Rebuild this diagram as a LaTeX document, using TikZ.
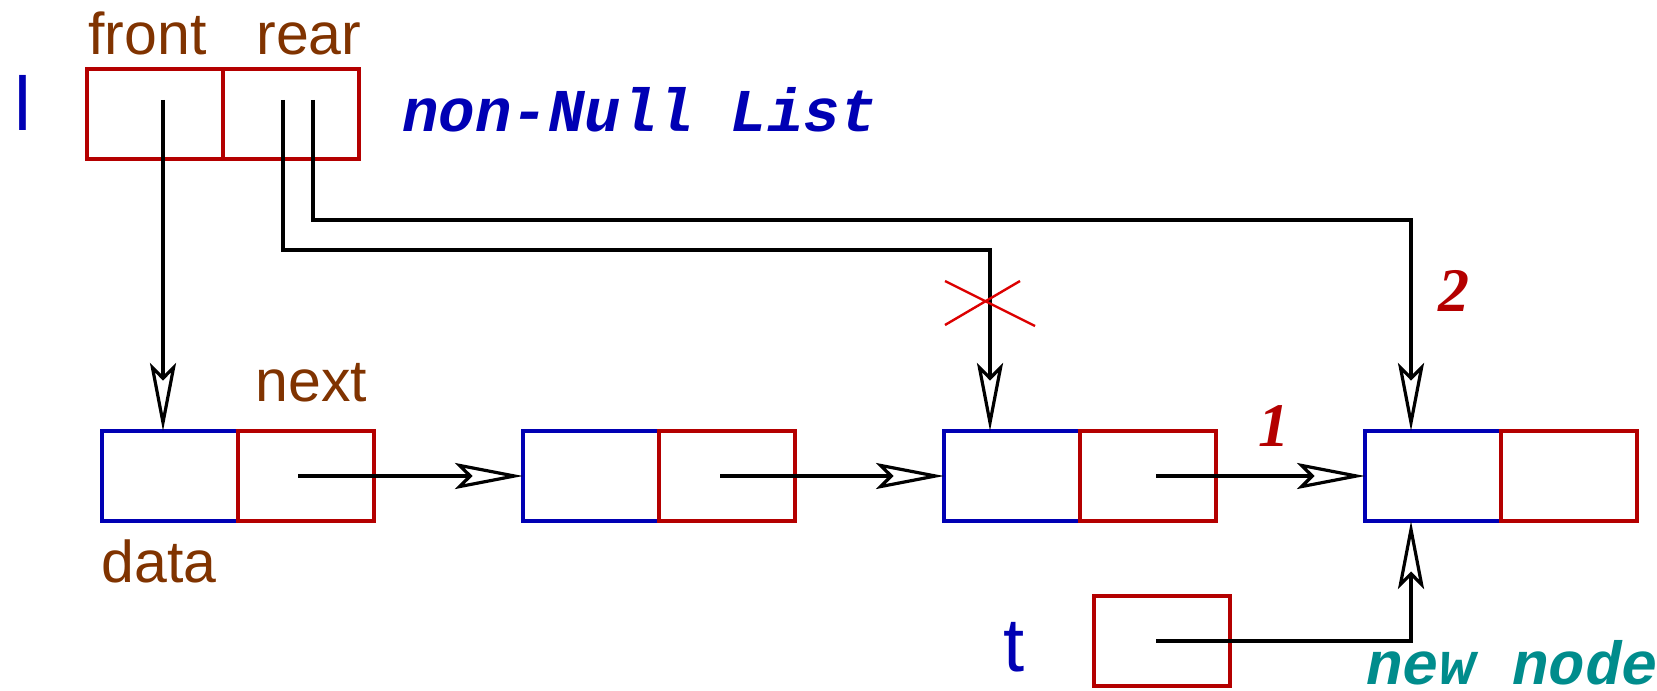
\documentclass[tikz,border=0pt]{standalone}
\usepackage{fontspec}
\setmainfont{Liberation Sans}
\newfontfamily\monofnt{Liberation Mono}
\newfontfamily\seriffnt{Liberation Serif}
\usetikzlibrary{arrows.meta}
\definecolor{cblue}{RGB}{0,0,180}
\definecolor{cred}{RGB}{180,0,0}
\definecolor{cbrown}{RGB}{128,51,0}
\definecolor{cteal}{RGB}{0,140,140}
\definecolor{xred}{RGB}{220,0,0}
\begin{document}
\begin{tikzpicture}[x=0.5pt,y=-0.5pt,
  cellbase/.style={draw, line width=1.6pt, minimum width=68pt, minimum height=45pt, inner sep=0pt, outer sep=0pt, anchor=north west},
  datacell/.style={cellbase, draw=cblue},
  linkcell/.style={cellbase, draw=cred},
  ptr/.style={line width=1.6pt, -{Stealth[open, length=34pt, width=13pt, inset=6.5pt]}},
  lbl/.style={inner sep=0pt, anchor=base west, text=cbrown, font=\fontsize{29.5pt}{32pt}\selectfont},
  varlbl/.style={inner sep=0pt, anchor=base west, text=cblue, font=\fontsize{38pt}{40pt}\selectfont},
  codelbl/.style={inner sep=0pt, anchor=base west, font=\monofnt\bfseries\itshape\fontsize{30.4pt}{32pt}\selectfont},
  steplbl/.style={inner sep=0pt, anchor=base west, text=cred, font=\seriffnt\bfseries\itshape\fontsize{31pt}{34pt}\selectfont}
]
\useasboundingbox (0,0) rectangle (1657,690);

% header
\node[linkcell] (hf) at (87,69) {};
\node[linkcell] (hr) at (223,69) {};

% list nodes
\foreach \i/\L in {1/102,2/523,3/944,4/1365}{
  \node[datacell] (n\i a) at (\L,431) {};
  \node[linkcell] (n\i b) at (\L+136,431) {};
}
% t box
\node[linkcell] (tb) at (1094,596) {};

% labels
\node[varlbl] (lL) at (14,130) {l};
\node[lbl] (lfront) at (88,55) {front};
\node[lbl] (lrear) at (256,55) {rear};
\node[codelbl, text=cblue] (lnn) at (402,131) {non-Null List};
\node[lbl] (lnext) at (255,401) {next};
\node[lbl] (ldata) at (101,582) {data};
\node[varlbl] (lt) at (1003,671) {t};
\node[codelbl, text=cteal] (lnew) at (1366,684) {new node};
\node[steplbl] (lone) at (1258,446) {1};
\node[steplbl] (ltwo) at (1438,311) {2};

% pointers from header
\coordinate (fp) at (163,100);
\draw[ptr] (fp) -- (fp |- n1a.north);
\coordinate (rp1) at (283,100);
\coordinate (j1) at (990,250);
\draw[ptr] (rp1) |- (j1) -- (j1 |- n3a.north);
\coordinate (rp2) at (313,100);
\coordinate (j2) at (1411,220);
\draw[ptr] (rp2) |- (j2) -- (j2 |- n4a.north);

% next links
\coordinate (l1) at (298,476);
\draw[ptr] (l1) -- (n2a.west);
\coordinate (l2) at (720,476);
\draw[ptr] (l2) -- (n3a.west);
\coordinate (l3) at (1156,476);
\draw[ptr] (l3) -- (n4a.west);

% t pointer
\coordinate (tp) at (1156,641);
\coordinate (j3) at (1411,641);
\draw[ptr] (tp) -- (j3) -- (j3 |- n4a.south);

% cross
\draw[xred, line width=1.2pt] (945,281) -- (1035,326) (945,325) -- (1020,281);
\end{tikzpicture}
\end{document}
